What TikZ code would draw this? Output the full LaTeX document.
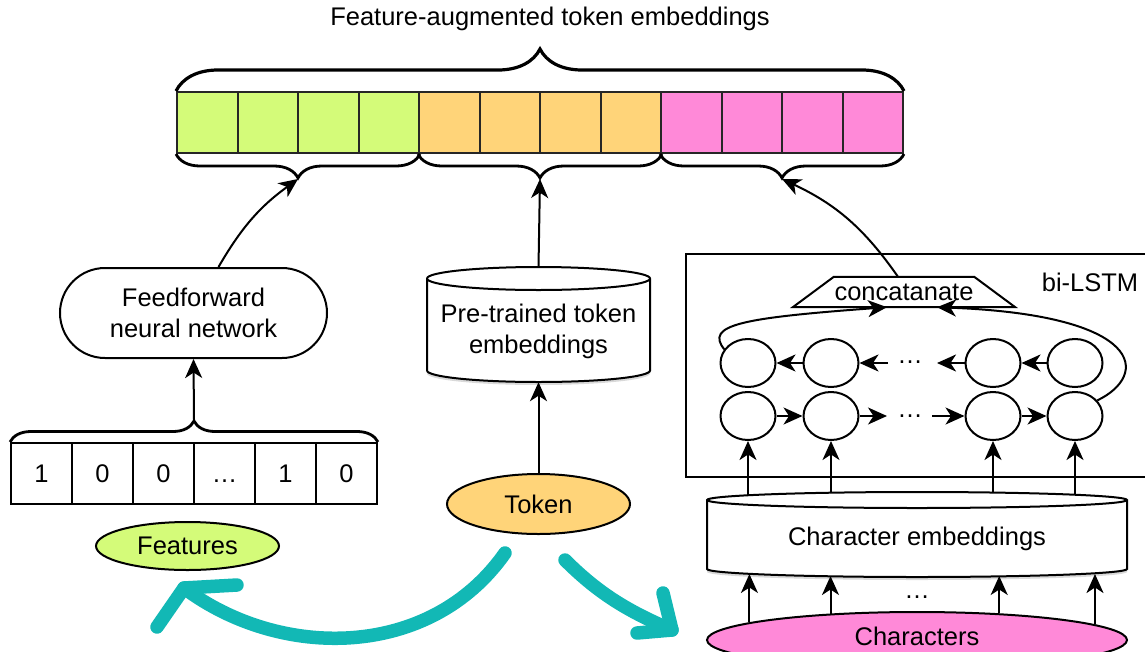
\documentclass[tikz,border=0pt]{standalone}
\usepackage{fontspec}
\setmainfont{Liberation Sans}
\usetikzlibrary{arrows.meta,shapes.geometric,shapes.misc,decorations.pathreplacing,calc}
\definecolor{cgreen}{HTML}{D4FB79}
\definecolor{corange}{HTML}{FFD479}
\definecolor{cpink}{HTML}{FF89D8}
\definecolor{cteal}{HTML}{12B8B5}
\begin{document}
\begin{tikzpicture}[x=1pt,y=-1pt,
 every node/.style={font=\fontsize{25.5}{31}\selectfont, inner sep=0pt},
 ln/.style={line width=2pt},
 arr/.style={ln, -{Stealth[length=19pt,width=17pt,inset=5.5pt]}},
 cell/.style={draw=black!85, line width=2pt, minimum width=60.5pt, minimum height=61pt},
 fcell/.style={draw, line width=2pt, minimum width=61pt, minimum height=61pt, text height=18.3pt, text depth=0pt},
 brc/.style={decorate, decoration={brace, amplitude=#1}, line width=2.8pt},
 oval/.style={ellipse, draw, line width=2pt},
 lstm/.style={ellipse, draw, line width=2pt, minimum width=55pt, minimum height=48pt},
 tealarr/.style={draw=cteal, line width=13.5pt, line cap=round, line join=round},
]
\useasboundingbox (0,0) rectangle (1145,651);

% title
\node (title) at (550,19) {Feature-augmented token embeddings};

% top bar
\foreach \i in {1,...,12}{
  \pgfmathsetmacro\cx{177+30.25+60.5*(\i-1)}
  \ifnum\i<5 \def\cc{cgreen}\else\ifnum\i<9 \def\cc{corange}\else\def\cc{cpink}\fi\fi
  \node[cell, fill=\cc] (c\i) at (\cx,122.5) {};
}
\draw[brc=42, line width=3.2pt] (c1.north west) -- (c12.north east);
\draw[brc=24] (c4.south east) -- (c1.south west);
\draw[brc=24] (c8.south east) -- (c5.south west);
\draw[brc=24] (c12.south east) -- (c9.south west);
\coordinate (tg) at ($(c1.south west)!0.5!(c4.south east)+(0,25)$);
\coordinate (to) at ($(c5.south west)!0.5!(c8.south east)+(0,25)$);
\coordinate (tp) at ($(c9.south west)!0.5!(c12.south east)+(0,25)$);

% features
\foreach \v [count=\i] in {1,0,0,…,1,0}{
  \node[fcell] (f\i) at ({41.5+61*(\i-1)},473.5) {\v};
}
\draw[brc=21] (f1.north west) -- (f6.north east);
\coordinate (ft) at ($(f1.north west)!0.5!(f6.north east)+(0,-22)$);

\node[rounded rectangle, draw, ln, minimum width=267pt, minimum height=90pt, align=center] (ffn) at (193.5,313) {Feedforward\\neural network};
\draw[arr] (ft) -- (ffn.south);
\draw[arr] ([xshift=25pt]ffn.north) to[bend left=12] (tg);

\node[oval, fill=cgreen, minimum width=183pt, minimum height=48pt] (feat) at (187.5,546) {Features};

% pre-trained token embeddings cylinder
\fill[black,opacity=.15] (427,281.5) -- (427,373.5) arc[start angle=180,end angle=360,x radius=111.5pt,y radius=11.5pt] -- (650,281.5) -- cycle;
\filldraw[fill=white, ln] (427,278.5) -- (427,370.5) arc[start angle=180,end angle=360,x radius=111.5pt,y radius=11.5pt] -- (650,278.5) arc[start angle=0,end angle=180,x radius=111.5pt,y radius=11.5pt] -- cycle;
\draw[ln] (427,278.5) arc[start angle=180,end angle=360,x radius=111.5pt,y radius=11.5pt];
\node[minimum width=223pt, minimum height=115pt] (pte) at (538.5,324.5) {};
\node[align=center] (pteL) at (538.5,331) {Pre-trained token\\embeddings};

\node[oval, fill=corange, minimum width=183pt, minimum height=60pt] (tok) at (538.5,504) {Token};
\draw[arr] (tok.north) -- (pte.south);
\draw[arr] (pte.north) -- (to);

% bi-LSTM box
\node[draw, ln, minimum width=463pt, minimum height=223pt, anchor=north west] (bil) at (685,253) {};
\node (bilL) at (1090,282) {bi-LSTM};

\node[minimum width=222pt, minimum height=30pt] (cat) at (904,292) {concatanate};
\draw[ln] (cat.south west) -- (cat.south east) -- ([xshift=-41pt]cat.north east) -- ([xshift=41pt]cat.north west) -- cycle;
\draw[arr] ([xshift=-6pt]cat.north) to[bend right=15] (tp);

\foreach \x [count=\i] in {748,831,993,1075}{
  \node[lstm] (l\i) at (\x,363) {};
  \node[lstm] (r\i) at (\x,416) {};
}
\node (dt) at (910,362) {…};
\node (db) at (910,416) {…};
\coordinate (dtR) at (888,363);
\coordinate (dtL) at (937,363);
\coordinate (dbL) at (887,416);
\coordinate (dbR) at (932,416);
\draw[arr] (l2) -- (l1);
\draw[arr] (dtR) -- (l2);
\draw[arr] (l3) -- (dtL);
\draw[arr] (l4) -- (l3);
\draw[arr] (r1) -- (r2);
\draw[arr] (r2) -- (dbL);
\draw[arr] (dbR) -- (r3);
\draw[arr] (r3) -- (r4);
\draw[arr] (l1.150) .. controls (705,325) and (740,318) .. ([xshift=-17pt]cat.south);
\draw[arr] (r4.35) .. controls (1150,375) and (1145,315) .. ([xshift=33pt]cat.south);

% character embeddings cylinder
\fill[black,opacity=.15] (707,503) -- (707,572) arc[start angle=180,end angle=360,x radius=210pt,y radius=8pt] -- (1127,503) -- cycle;
\filldraw[fill=white, ln] (707,500) -- (707,569) arc[start angle=180,end angle=360,x radius=210pt,y radius=8pt] -- (1127,500) arc[start angle=0,end angle=180,x radius=210pt,y radius=8pt] -- cycle;
\draw[ln] (707,500) arc[start angle=180,end angle=360,x radius=210pt,y radius=8pt];
\node[minimum width=420pt, minimum height=85pt] (ce) at (917,534.5) {};
\node (ceL) at (917,539) {Character embeddings};

\draw[arr] (r1.south |- 0,495) -- (r1.south);
\draw[arr] (r2.south |- 0,493) -- (r2.south);
\draw[arr] (r3.south |- 0,493) -- (r3.south);
\draw[arr] (r4.south |- 0,495) -- (r4.south);

\node[oval, fill=cpink, minimum width=420pt, minimum height=56pt] (chars) at (917,640) {};
\node (charsL) at (917,636) {Characters};
\draw[arr] (chars.174.2) -- (chars.174.2 |- 0,574);
\draw[arr] (chars.163.9) -- (chars.163.9 |- 0,576);
\draw[arr] (chars.18.95) -- (chars.18.95 |- 0,576);
\draw[arr] (chars.5.81) -- (chars.5.81 |- 0,574);
\node (dc) at (917,597) {…};

% teal gesture arrows
\coordinate (tlS) at (505,553);
\coordinate (tlE) at (184,588);
\draw[tealarr] (tlS) .. controls (430,660) and (280,660) .. (tlE);
\draw[tealarr] (237,585) -- (tlE) -- (157,627);
\coordinate (trS) at (565,560);
\coordinate (trE) at (672,630);
\draw[tealarr] (trS) .. controls (600,595) and (630,612) .. (trE);
\draw[tealarr] (663,593) -- (trE) -- (637,633);
\end{tikzpicture}
\end{document}
